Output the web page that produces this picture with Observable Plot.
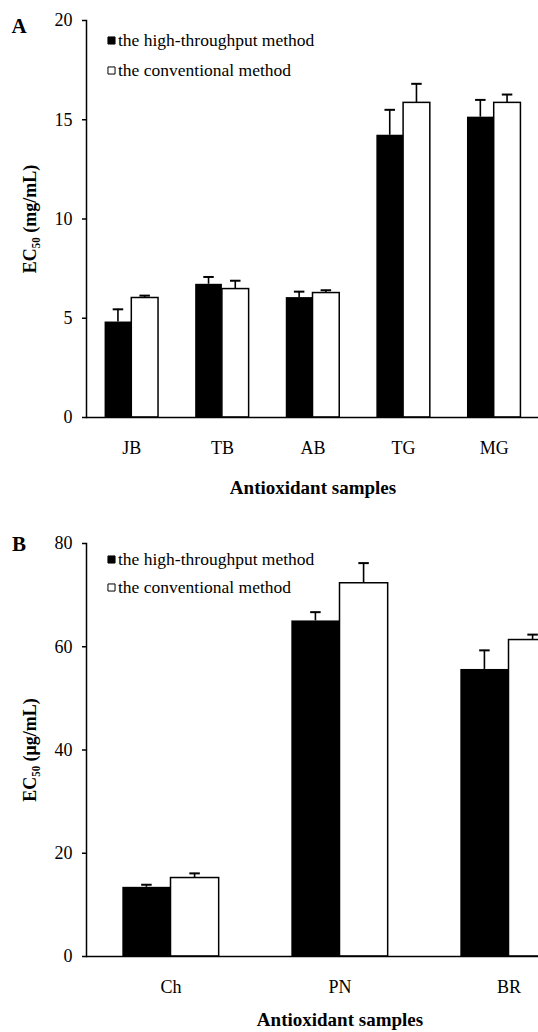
<!DOCTYPE html>
<html><head><meta charset="utf-8">
<script src="https://cdn.jsdelivr.net/npm/d3@7"></script>
<script src="https://cdn.jsdelivr.net/npm/@observablehq/plot@0.6"></script>
<style>
html,body{margin:0;padding:0;background:#fff;}
#wrap{width:538px;height:1032px;overflow:hidden;position:relative;background:#fff;}
#wrap svg{display:block;max-width:none !important;}
#wrap svg text{font-family:"Liberation Serif","Times New Roman",serif;}
</style></head><body><div id="wrap"></div>
<script>
// ---- data ----
const methods = ["the high-throughput method", "the conventional method"];
const xTitle = "Antioxidant samples";

const catsA = ["JB", "TB", "AB", "TG", "MG"];
const htA = [4.81, 6.71, 6.04, 14.22, 15.13];
const htErrA = [0.64, 0.37, 0.30, 1.28, 0.87];
const convA = [6.02, 6.47, 6.27, 15.85, 15.85];
const convErrA = [0.12, 0.42, 0.14, 0.96, 0.42];
const yTicksA = [0, 5, 10, 15, 20];
const yLabelA = "EC\u2085\u2080 (mg/mL)";

const catsB = ["Ch", "PN", "BR"];
const htB = [13.4, 65.0, 55.6];
const htErrB = [0.5, 1.7, 3.7];
const convB = [15.2, 72.3, 61.3];
const convErrB = [0.9, 3.9, 1.05];
const yTicksB = [0, 20, 40, 60, 80];
const yLabelB = "EC\u2085\u2080 (\u03bcg/mL)";

const serif = "Liberation Serif, Times New Roman, serif";

function panel(o) {
  const marginLeft = 86, marginRight = 0;
  const n = o.cats.length;
  const step = (o.width - marginLeft - marginRight) / n;
  const bw = step * (1 - o.pad);
  const half = bw / 2;
  const lw = 1.6, cap = 10.5;
  const rows = o.cats.map((c, i) => ({cat: c, ht: o.ht[i], htErr: o.htErr[i], conv: o.conv[i], convErr: o.convErr[i]}));
  return Plot.plot({
    width: o.width, height: o.height,
    marginLeft, marginRight, marginTop: o.marginTop, marginBottom: o.marginBottom,
    style: {fontFamily: serif, fontSize: "18px", color: "#000", background: "#fff", overflow: "visible", maxWidth: "none"},
    x: {type: "band", domain: o.cats, paddingInner: o.pad, paddingOuter: o.pad / 2, align: 0.5, round: false},
    y: {domain: [o.yTicks[0], o.yTicks[o.yTicks.length - 1]]},
    marks: [
      Plot.barY(rows, {x: "cat", y: "ht", fill: "#000", insetRight: half}),
      Plot.barY(rows, {x: "cat", y: "conv", fill: "#fff", stroke: "#000", strokeWidth: 1.5, insetLeft: half}),
      Plot.barY(rows, {x: "cat", y1: "ht", y2: d => d.ht + d.htErr, fill: "#000", insetLeft: half / 2 - lw / 2, insetRight: half * 1.5 - lw / 2}),
      Plot.barY(rows, {x: "cat", y1: "conv", y2: d => d.conv + d.convErr, fill: "#000", insetLeft: half * 1.5 - lw / 2, insetRight: half / 2 - lw / 2}),
      Plot.tickY(rows, {x: "cat", y: d => d.ht + d.htErr, stroke: "#000", strokeWidth: 2, insetLeft: half / 2 - cap / 2, insetRight: half * 1.5 - cap / 2}),
      Plot.tickY(rows, {x: "cat", y: d => d.conv + d.convErr, stroke: "#000", strokeWidth: 2, insetLeft: half * 1.5 - cap / 2, insetRight: half / 2 - cap / 2}),
      Plot.ruleY([0], {stroke: "#000", strokeWidth: 1.5}),
      Plot.frame({anchor: "left", stroke: "#000", strokeWidth: 1.5}),
      Plot.axisY({ticks: o.yTicks, tickSize: 4, tickPadding: 10, fontSize: 18, label: null, strokeWidth: 1.5}),
      Plot.axisX({tickSize: 0, tickPadding: 24, fontSize: 18, label: null}),
      Plot.text([o.yLabel], {text: d => d, frameAnchor: "left", dx: -56, rotate: -90, textAnchor: "middle", fontWeight: "bold", fontSize: 18}),
      Plot.text([xTitle], {text: d => d, frameAnchor: "bottom", dy: o.titleDy, textAnchor: "middle", lineAnchor: "middle", fontWeight: "bold", fontSize: 19}),
      Plot.text([o.panelLabel], {text: d => d, frameAnchor: "top-left", dx: -67.5, dy: o.labelDy, textAnchor: "middle", lineAnchor: "middle", fontWeight: "bold", fontSize: 21}),
      Plot.dot([methods[0]], {frameAnchor: "top-left", dx: 25, dy: o.legendDy[0], symbol: "square", r: 4, fill: "#000", stroke: "#000", strokeWidth: 1}),
      Plot.dot([methods[1]], {frameAnchor: "top-left", dx: 25, dy: o.legendDy[1], symbol: "square", r: 4, fill: "#fff", stroke: "#000", strokeWidth: 1}),
      Plot.text([methods[0]], {text: d => d, frameAnchor: "top-left", dx: 31.5, dy: o.legendDy[0], textAnchor: "start", lineAnchor: "middle", fontSize: 17.5}),
      Plot.text([methods[1]], {text: d => d, frameAnchor: "top-left", dx: 31.5, dy: o.legendDy[1], textAnchor: "start", lineAnchor: "middle", fontSize: 17.5})
    ]
  });
}

const wrap = document.getElementById("wrap");
wrap.appendChild(panel({
  cats: catsA, ht: htA, htErr: htErrA, conv: convA, convErr: convErrA,
  yTicks: yTicksA, yLabel: yLabelA, panelLabel: "A",
  width: 539, height: 505, marginTop: 20, marginBottom: 88, pad: 0.41,
  legendDy: [20, 50], labelDy: 6, titleDy: 70
}));
wrap.appendChild(panel({
  cats: catsB, ht: htB, htErr: htErrB, conv: convB, convErr: convErrB,
  yTicks: yTicksB, yLabel: yLabelB, panelLabel: "B",
  width: 593, height: 527, marginTop: 38, marginBottom: 76, pad: 0.43,
  legendDy: [16, 44], labelDy: 1, titleDy: 63
}));
</script>
</body></html>
